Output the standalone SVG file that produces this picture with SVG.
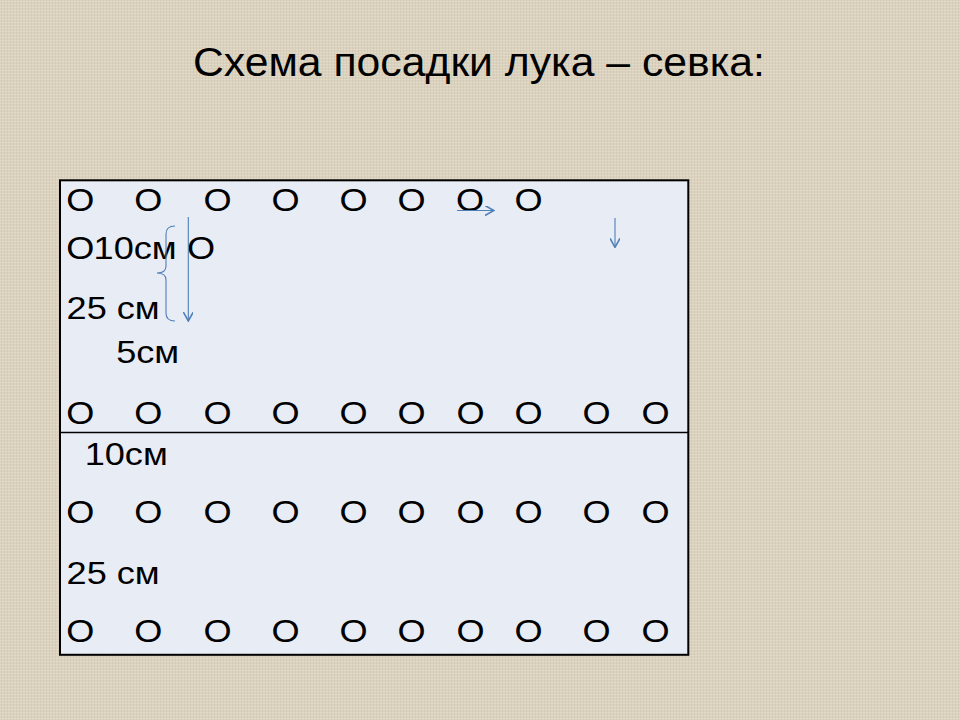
<svg xmlns="http://www.w3.org/2000/svg" width="960" height="720" viewBox="0 0 960 720">
  <defs>
    <pattern id="linen" width="6" height="6" patternUnits="userSpaceOnUse">
      <rect width="6" height="6" fill="#DAD1BE"/>
      <path d="M0 1.5H6M0 4.5H6" stroke="#E8E1D2" stroke-width="0.8" opacity="0.7"/>
      <path d="M1.5 0V6M4.5 0V6" stroke="#C7BCA6" stroke-width="0.7" opacity="0.5"/>
    </pattern>
    <marker id="open" viewBox="0 0 10 10" refX="9" refY="5" markerWidth="10" markerHeight="10" markerUnits="userSpaceOnUse" orient="auto">
      <polyline points="0,0 9,5 0,10" fill="none" stroke="#4F7FB8" stroke-width="1.6"/>
    </marker>
    <style>
      .t { font-family: "Liberation Sans", Arial, sans-serif; fill: #000; }
      .big { font-size: 32px; }
      .o { font-size: 32px; text-anchor: middle; }
      .c { fill: none; stroke: #4F7FB8; stroke-width: 1.1; }
    </style>
  </defs>
  <rect width="960" height="720" fill="url(#linen)"/>

  <g id="title">
    <text class="t" x="193" y="76" font-size="40" textLength="572" lengthAdjust="spacingAndGlyphs">Схема посадки лука – севка:</text>
  </g>

  <g id="table">
    <rect x="60" y="180.3" width="628.3" height="474.5" fill="#E8ECF4" stroke="#000" stroke-width="2"/>
    <line x1="60" y1="432.5" x2="688" y2="432.5" stroke="#000" stroke-width="1.3"/>
  </g>

  <g transform="scale(1.13 1)">
    <g id="row1" class="t o">
      <text x="71.1" y="211.5">O</text>
      <text x="131.2" y="211.5">O</text>
      <text x="192.5" y="211.5">O</text>
      <text x="252.7" y="211.5">O</text>
      <text x="312.8" y="211.5">O</text>
      <text x="364.2" y="211.5">O</text>
      <text x="416.0" y="211.5">O</text>
      <text x="467.7" y="211.5">O</text>
    </g>
    <g id="row2" class="t">
      <text class="o" x="71.1" y="259.5">O</text>
      <text class="big" x="82.8" y="259.5">10см</text>
      <text class="o" x="177.9" y="259.5">O</text>
    </g>
    <g id="label-25cm-top" class="t big">
      <text x="58.9" y="319">25 см</text>
    </g>
    <g id="label-5cm" class="t big">
      <text x="102.8" y="363">5см</text>
    </g>
    <g id="row3" class="t o">
      <text x="71.1" y="424">O</text>
      <text x="131.2" y="424">O</text>
      <text x="192.5" y="424">O</text>
      <text x="252.7" y="424">O</text>
      <text x="312.8" y="424">O</text>
      <text x="364.2" y="424">O</text>
      <text x="416.4" y="424">O</text>
      <text x="467.7" y="424">O</text>
      <text x="527.9" y="424">O</text>
      <text x="580.1" y="424">O</text>
    </g>
    <g id="label-10cm" class="t big">
      <text x="74.9" y="465">10см</text>
    </g>
    <g id="row4" class="t o">
      <text x="71.1" y="523">O</text>
      <text x="131.2" y="523">O</text>
      <text x="192.5" y="523">O</text>
      <text x="252.7" y="523">O</text>
      <text x="312.8" y="523">O</text>
      <text x="364.2" y="523">O</text>
      <text x="416.4" y="523">O</text>
      <text x="467.7" y="523">O</text>
      <text x="527.9" y="523">O</text>
      <text x="580.1" y="523">O</text>
    </g>
    <g id="label-25cm-bottom" class="t big">
      <text x="58.9" y="584">25 см</text>
    </g>
    <g id="row5" class="t o">
      <text x="71.1" y="642">O</text>
      <text x="131.2" y="642">O</text>
      <text x="192.5" y="642">O</text>
      <text x="252.7" y="642">O</text>
      <text x="312.8" y="642">O</text>
      <text x="364.2" y="642">O</text>
      <text x="416.4" y="642">O</text>
      <text x="467.7" y="642">O</text>
      <text x="527.9" y="642">O</text>
      <text x="580.1" y="642">O</text>
    </g>
  </g>

  <g id="connectors">
    <path class="c" d="M175 226 Q166 226 166 234 L166 266 Q166 273 157 273 Q166 273 166 280 L166 313 Q166 321 175 321"/>
    <line class="c" x1="188.3" y1="217" x2="188.3" y2="321" marker-end="url(#open)"/>
    <line class="c" x1="457" y1="210.5" x2="494" y2="210.5" marker-end="url(#open)"/>
    <line class="c" x1="615" y1="218" x2="615" y2="247.3" marker-end="url(#open)"/>
  </g>
</svg>
